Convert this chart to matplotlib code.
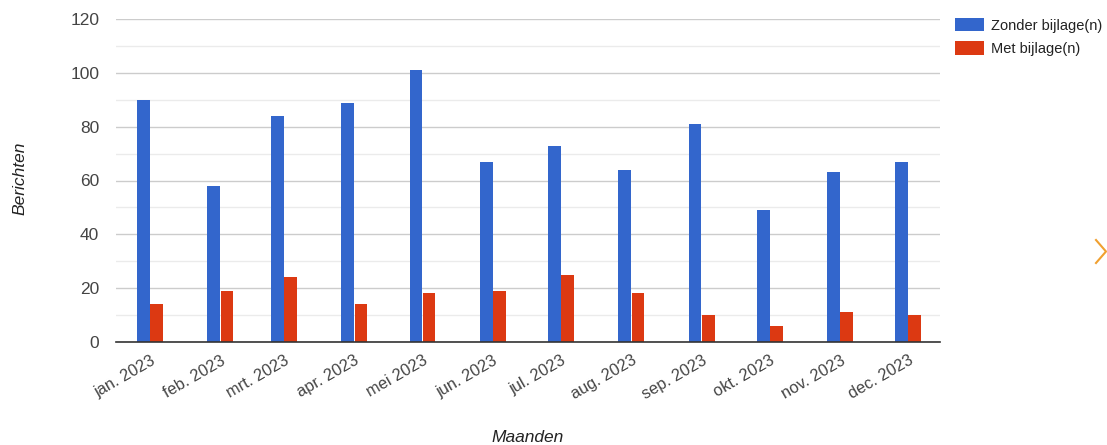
import matplotlib
matplotlib.use("Agg")
import matplotlib.pyplot as plt
import matplotlib.dates as mdates
from matplotlib.lines import Line2D
import datetime as dt

months = ["jan. 2023", "feb. 2023", "mrt. 2023", "apr. 2023", "mei 2023", "jun. 2023",
          "jul. 2023", "aug. 2023", "sep. 2023", "okt. 2023", "nov. 2023", "dec. 2023"]
month_dates = [dt.date(2023, m, 1) for m in range(1, 13)]
zonder = [90, 58, 84, 89, 101, 67, 73, 64, 81, 49, 63, 67]
met = [14, 19, 24, 14, 18, 19, 25, 18, 10, 6, 11, 10]

plt.rcParams['font.family'] = ['Liberation Sans', 'DejaVu Sans']

W, H = 1107, 445
fig = plt.figure(figsize=(W / 100, H / 100), dpi=100)
ax = fig.add_axes([116 / W, (H - 341.7) / H, (940 - 116) / W, (341.7 - 19.3) / H])

x = mdates.date2num(month_dates)
bw = 5.6
ax.bar(x - bw / 2 - 0.1, zonder, width=bw, color='#3366cc', label='Zonder bijlage(n)', zorder=3)
ax.bar(x + bw / 2 + 0.1, met, width=bw, color='#dc3912', label='Met bijlage(n)', zorder=3)

ax.set_xlim(mdates.date2num(dt.date(2022, 12, 17)), mdates.date2num(dt.date(2023, 12, 15)))
ax.set_ylim(0, 120)
ax.set_yticks(range(0, 121, 20))
ax.set_yticks(range(10, 120, 20), minor=True)
ax.grid(axis='y', which='major', color='#cccccc', linewidth=1, zorder=0)
ax.grid(axis='y', which='minor', color='#ebebeb', linewidth=1, zorder=0)
ax.set_xticks(x)
ax.set_xticklabels(months, rotation=30, ha='right', va='top', rotation_mode='anchor')
ax.tick_params(axis='both', which='both', length=0)
ax.tick_params(axis='x', labelsize=11.8, labelcolor='#444444', pad=8)
ax.tick_params(axis='y', labelsize=12.5, labelcolor='#444444', pad=12)
for s in ['top', 'right', 'left']:
    ax.spines[s].set_visible(False)
ax.spines['bottom'].set_color('#333333')
ax.spines['bottom'].set_linewidth(1.2)
ax.spines['bottom'].set_zorder(4)

fig.text(20 / W, 1 - 178 / H, 'Berichten', rotation=90, style='italic', fontsize=12.5,
         color='#222222', ha='center', va='center')
fig.text(528 / W, 1 - 438 / H, 'Maanden', style='italic', fontsize=12.5,
         color='#222222', ha='center', va='center')

ax.legend(loc='upper left', bbox_to_anchor=(949 / W, 1 - 12 / H), bbox_transform=fig.transFigure,
          frameon=False, fontsize=10.5, handlelength=2.0, handleheight=1.05, handletextpad=0.45,
          labelspacing=0.6, borderaxespad=0, labelcolor='#222222')

fig.add_artist(Line2D([1096 / W, 1106 / W, 1096 / W], [1 - 240 / H, 1 - 251.5 / H, 1 - 263 / H],
                      transform=fig.transFigure, color='#f0a030', linewidth=1.5))

fig.savefig('out.png', dpi=100)
